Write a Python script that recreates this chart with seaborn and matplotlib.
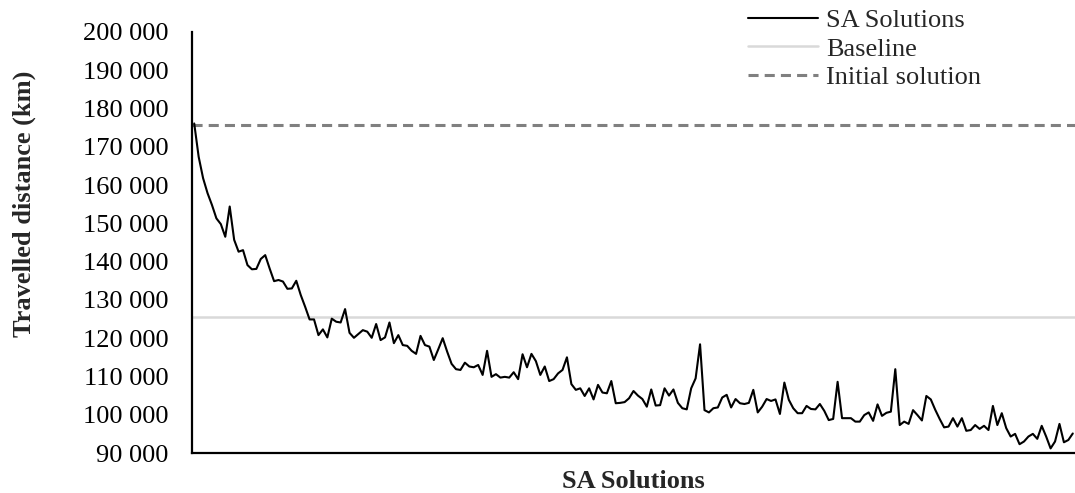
import numpy as np
import pandas as pd
import matplotlib
matplotlib.use("Agg")
import matplotlib.pyplot as plt
import seaborn as sns

# Travelled distance (km) of each simulated-annealing solution
sa_solutions = [
    176100, 167400, 161800, 157900, 154800, 151300, 149800, 146500, 154400, 145700,
    142600, 143000, 139100, 138000, 138100, 140700, 141700, 138200, 134900, 135200,
    134800, 132900, 133000, 135000, 131300, 128200, 124900, 124900, 120800, 122300,
    120200, 125100, 124300, 124100, 127600, 121400, 120100, 121100, 122100, 121700,
    120100, 123700, 119500, 120200, 124100, 118700, 120800, 118200, 118000, 116700,
    115900, 120600, 118200, 117800, 114300, 117100, 120000, 116500, 113300, 111900,
    111700, 113600, 112600, 112400, 113000, 110400, 116700, 109900, 110600, 109700,
    109900, 109700, 111100, 109300, 115800, 112400, 115900, 114000, 110400, 112600,
    108800, 109300, 110800, 111700, 115000, 108000, 106500, 106900, 104900, 106900,
    104000, 107800, 105800, 105600, 108800, 103000, 103100, 103300, 104300, 106200,
    105000, 104100, 102100, 106600, 102400, 102500, 106900, 105000, 106600, 103100,
    101700, 101400, 106900, 109500, 118400, 101200, 100600, 101700, 101900, 104500,
    105200, 101900, 104100, 103000, 102800, 103100, 106500, 100600, 102100, 104100,
    103600, 104000, 100200, 108400, 103900, 101700, 100400, 100400, 102300, 101500,
    101400, 102800, 101000, 98600, 98900, 108600, 99100, 99100, 99100, 98200,
    98200, 99900, 100600, 98400, 102700, 99700, 100500, 100800, 111900, 97300,
    98200, 97600, 101200, 99900, 98500, 104900, 104000, 101300, 98900, 96700,
    96900, 99100, 96900, 99100, 95800, 96000, 97300, 96300, 97100, 96000,
    102300, 97300, 100400, 96500, 94300, 95000, 92300, 93000, 94300, 95000,
    93700, 97100, 94300, 91200, 93000, 97600, 92800, 93400, 95100,
]
baseline = 125500
initial_solution = 175800

y_ticks = list(range(90000, 200001, 10000))
y_tick_labels = [f"{v:,}".replace(",", " ") for v in y_ticks]

sns.set_style("white")
plt.rcParams["font.family"] = ["Liberation Serif", "DejaVu Serif"]

df = pd.DataFrame({"solution": np.arange(len(sa_solutions)), "distance": sa_solutions})

fig = plt.figure(figsize=(10.75, 4.93), dpi=100)
ax = fig.add_axes([192 / 1075, 1 - 453 / 493, 1 - 192 / 1075, (453 - 32) / 493])

sns.lineplot(data=df, x="solution", y="distance", ax=ax, color="black",
             linewidth=1.5, label="SA Solutions", zorder=3)
ax.axhline(baseline, color="#d9d9d9", linewidth=1.8, label="Baseline", zorder=2)
ax.axhline(initial_solution, color="#808080", linewidth=2.2,
           linestyle=(0, (3.3, 2.0)), label="Initial solution", zorder=2)

ax.set_xlim(-0.5, len(sa_solutions) - 0.5)
ax.set_ylim(90000, 200000)
ax.set_yticks(y_ticks)
ax.set_yticklabels(y_tick_labels)
ax.set_xticks([])
ax.tick_params(axis="y", length=0, pad=17, labelsize=19, colors="black")

for side in ("top", "right"):
    ax.spines[side].set_visible(False)
for side in ("left", "bottom"):
    ax.spines[side].set_color("black")
    ax.spines[side].set_linewidth(1.6)

ax.set_xlabel("SA Solutions", fontsize=19, fontweight="bold", labelpad=12)
ax.set_ylabel("Travelled distance (km)", fontsize=19, fontweight="bold")
ax.yaxis.set_label_coords(-0.1765, 0.591)

leg = ax.legend(loc="upper left", bbox_to_anchor=(748 / 1075, 1 - 8.5 / 493),
                bbox_transform=fig.transFigure, frameon=False, fontsize=19,
                handlelength=2.65, handletextpad=0.3, labelspacing=0.2,
                borderaxespad=0, borderpad=0)

fig.savefig("out.png", dpi=100)
